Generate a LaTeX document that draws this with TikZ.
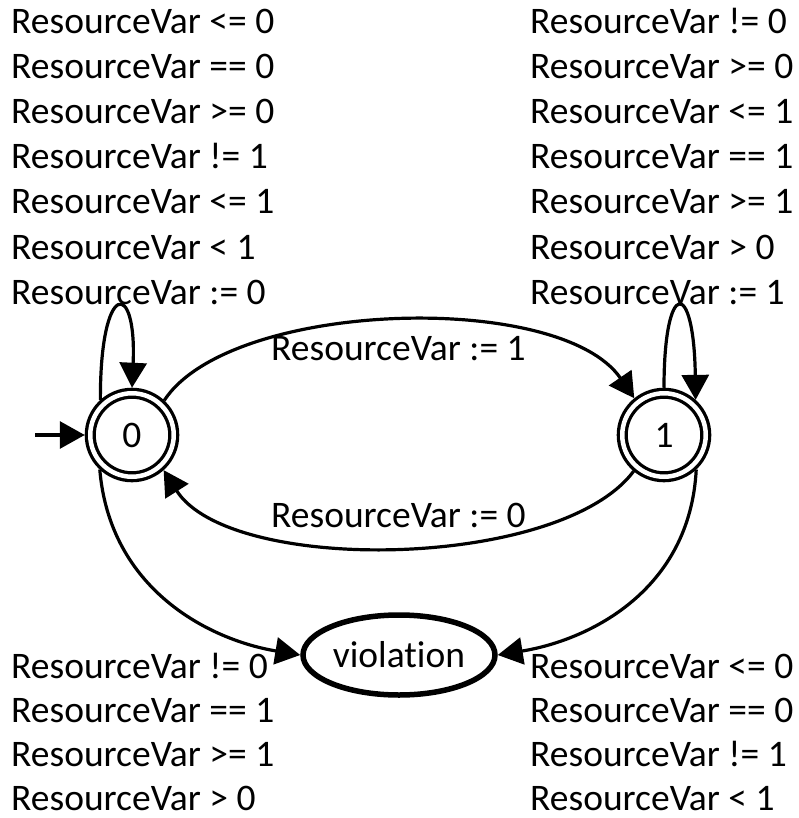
\documentclass[tikz,border=0pt]{standalone}
\usepackage{fontspec}
\setmainfont{Carlito}[Ligatures=NoCommon]
\usetikzlibrary{arrows.meta,shapes.geometric}
\begin{document}
\begin{tikzpicture}[x=1pt,y=-1pt,
  every node/.style={font=\fontsize{37.5}{45}\selectfont},
  lbl/.style={anchor=base west,inner sep=0pt,text depth=0pt},
  accstate/.style={circle,draw,line width=3.3pt,double,double distance=4.5pt,minimum size=83.5pt,inner sep=0pt,outer sep=5.5pt},
  badstate/.style={ellipse,draw,line width=5.5pt,minimum width=192pt,minimum height=80pt,inner sep=0pt,outer sep=2.75pt},
  edge/.style={line width=3.2pt,-{Triangle[length=25pt,width=27pt]}}]
\useasboundingbox (0,0) rectangle (799,818);
\node[accstate] (s0) at (132,435) {0};
\node[accstate] (s1) at (664,435) {1};
\node[badstate] (v) at (399,655) {violation};
\coordinate (start) at (35,435);
% labels
\foreach \t [count=\i from 0] in {{ResourceVar <= 0},{ResourceVar == 0},{ResourceVar >= 0},{ResourceVar != 1},{ResourceVar <= 1},{ResourceVar < 1},{ResourceVar := 0}}
  \node[lbl] (tl\i) at (11,34+45*\i) {\t};
\foreach \t [count=\i from 0] in {{ResourceVar != 0},{ResourceVar >= 0},{ResourceVar <= 1},{ResourceVar == 1},{ResourceVar >= 1},{ResourceVar > 0},{ResourceVar := 1}}
  \node[lbl] (tr\i) at (530,34+45*\i) {\t};
\foreach \t [count=\i from 0] in {{ResourceVar != 0},{ResourceVar == 1},{ResourceVar >= 1},{ResourceVar > 0}}
  \node[lbl] (bl\i) at (11,678+44*\i) {\t};
\foreach \t [count=\i from 0] in {{ResourceVar <= 0},{ResourceVar == 0},{ResourceVar != 1},{ResourceVar < 1}}
  \node[lbl] (br\i) at (530,678+44*\i) {\t};
\node[lbl] (l01) at (271,360) {ResourceVar := 1};
\node[lbl] (l10) at (271,527) {ResourceVar := 0};
% edges
\draw[edge] (start) -- (s0.west);
\draw[edge] (s0.132) .. controls (100,279) and (137,279) .. (s0.90);
\draw[edge] (s1.90) .. controls (664,278) and (694,278) .. (s1.48);
\draw[edge] (s0.47) .. controls (230,300) and (560,290) .. (s1.129);
\draw[edge] (s1.-130) .. controls (560,570) and (230,575) .. (s0.-48);
\draw[edge] (s0.-133) .. controls (110,590) and (210,640) .. (v.west);
\draw[edge] (s1.-47) .. controls (690,590) and (590,640) .. (v.east);
\end{tikzpicture}
\end{document}
